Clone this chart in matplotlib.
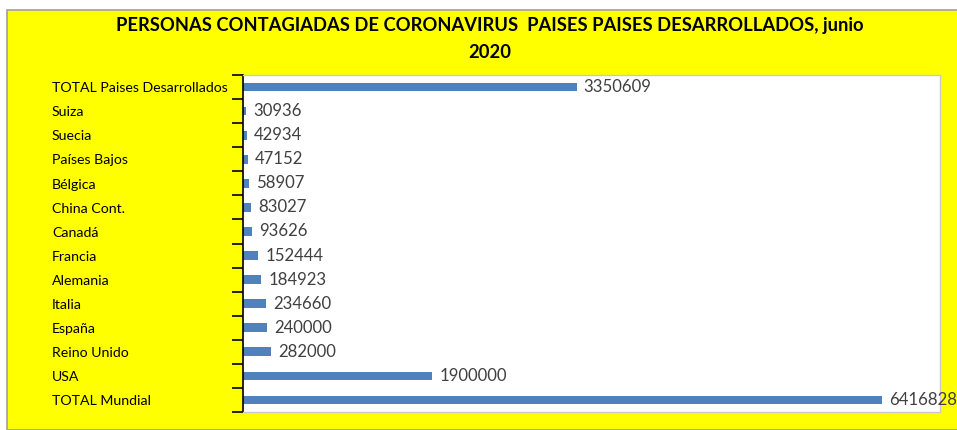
import matplotlib
matplotlib.use("Agg")
import matplotlib.pyplot as plt
import matplotlib.transforms as mtransforms
from matplotlib.patches import Rectangle

categories = ["TOTAL Paises Desarrollados", "Suiza", "Suecia", "Países Bajos", "Bélgica",
              "China Cont.", "Canadá", "Francia", "Alemania", "Italia", "España",
              "Reino Unido", "USA", "TOTAL Mundial"]
values = [3350609, 30936, 42934, 47152, 58907, 83027, 93626, 152444, 184923,
          234660, 240000, 282000, 1900000, 6416828]
title = "PERSONAS CONTAGIADAS DE CORONAVIRUS  PAISES PAISES DESARROLLADOS, junio\n2020"

W, H = 957, 430
fig = plt.figure(figsize=(W/100, H/100), dpi=100, facecolor="white")
bg = Rectangle((7/W, 0), 1, 1 - 10/H, transform=fig.transFigure,
               facecolor="#FFFF00", edgecolor="#A0A0A0", lw=1.2, zorder=-10)
fig.add_artist(bg)

ax = fig.add_axes([243/W, 1 - 412/H, (940-243)/W, (412-75)/H])
ax.set_zorder(5)
ax.set_facecolor("white")
n = len(categories)
ypos = list(range(n))
ax.barh(ypos, values, height=0.36, color="#4F81BD", zorder=2)
ax.set_ylim(n - 0.5, -0.5)
ax.set_xlim(0, 7000000)
ax.set_xticks([])
ax.set_yticks(ypos)
ax.set_yticklabels([])
ax.tick_params(axis="y", which="major", length=0)
ax.set_yticks([i - 0.5 for i in range(n + 1)], minor=True)
ax.tick_params(axis="y", which="minor", length=8, width=1.2, color="black", direction="out")
for s in ["top", "right", "bottom"]:
    ax.spines[s].set_color("#C8C8C8")
    ax.spines[s].set_linewidth(1)
ax.spines["left"].set_color("black")
ax.spines["left"].set_linewidth(1.2)

trans = mtransforms.blended_transform_factory(fig.transFigure, ax.transData)
for y, c in zip(ypos, categories):
    ax.text(52/W, y + 0.05, c, transform=trans, ha="left", va="center", fontsize=10.2,
            family="Lato", color="black", clip_on=False)

offset = mtransforms.offset_copy(ax.transData, fig=fig, x=7, y=0, units="dots")
for y, v in zip(ypos, values):
    ax.text(v, y, str(v), transform=offset, ha="left", va="center", fontsize=12.1,
            family="Lato", color="#404040", clip_on=False)

fig.text(490/W, 1 - 39/H, title, ha="center", va="center", fontsize=13.2,
         family="Lato", fontweight="bold", linespacing=1.65)

fig.savefig("out.png", dpi=100, facecolor=fig.get_facecolor())
